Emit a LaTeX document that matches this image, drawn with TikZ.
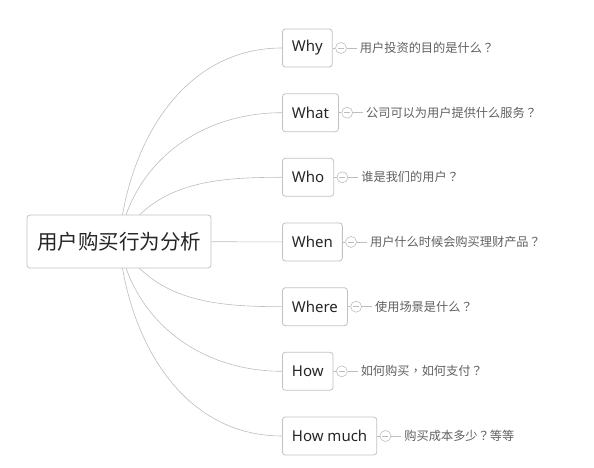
\documentclass[tikz,border=0pt]{standalone}
\usepackage{fontspec}
\setmainfont{Noto Sans}
\newfontfamily\cjk{Noto Sans CJK SC}
\newfontfamily\cjkpunct{Noto Sans CJK TC}
\newcommand\qm{{\cjkpunct ？}}
\newcommand\cm{{\cjkpunct ，}}
\usetikzlibrary{positioning}
\usetikzlibrary{backgrounds}

\definecolor{linegray}{HTML}{BDBDBD}
\definecolor{boxgray}{HTML}{C2C2C2}
\definecolor{textgray}{HTML}{606060}

\tikzset{
  topic/.style={draw=boxgray, fill=white, rounded corners=3pt, line width=0.8pt,
    minimum height=38pt, inner xsep=9.5pt, font=\fontsize{15}{18}\selectfont, text=black!85},
  central/.style={topic, minimum height=53pt, inner xsep=10pt,
    font=\cjk\fontsize{20.5}{24}\selectfont},
  fold/.style={circle, draw=linegray, line width=0.6pt, minimum size=11pt, inner sep=0pt,
    path picture={\draw[linegray, line width=0.6pt] ([xshift=2.5pt]path picture bounding box.west) -- ([xshift=-2.5pt]path picture bounding box.east);}},
  note/.style={font=\cjk\fontsize{12.2}{15}\selectfont, text=textgray, inner sep=3pt},
  branch/.style={draw=linegray, line width=0.6pt},
}

\begin{document}
\begin{tikzpicture}[x=1pt,y=1pt]
      \useasboundingbox (0,0) rectangle (594,468);
      % central topic
      \node[central] (root) at (119,226.5) {用户购买行为分析};
      % main branches
      \node[topic, anchor=west] (why) at (282,420) {Why};
      \node[topic, anchor=west] (what) at (282,355.3) {What};
      \node[topic, anchor=west] (who) at (282,290.7) {Who};
      \node[topic, anchor=west] (when) at (282,226) {When};
      \node[topic, anchor=west] (where) at (282,161.3) {Where};
      \node[topic, anchor=west] (how) at (282,96.7) {How};
      \node[topic, anchor=west] (howmuch) at (282,32) {How much};
      \begin{scope}[on background layer]
        \draw[branch] (root.center) to[out=85,in=180] (why.west);
        \draw[branch] (root.center) to[out=80,in=180] (what.west);
        \draw[branch] (root.center) to[out=60,in=180] (who.west);
        \draw[branch] (root) -- (when);
        \draw[branch] (root.center) to[out=-60,in=180] (where.west);
        \draw[branch] (root.center) to[out=-80,in=180] (how.west);
        \draw[branch] (root.center) to[out=-85,in=180] (howmuch.west);
      \end{scope}
      % sub topics
      \node[fold, right=2.5pt of why] (cwhy) {};
      \node[note, right=10pt of cwhy] (awhy) {用户投资的目的是什么\qm};
      \node[fold, right=2.5pt of what] (cwhat) {};
      \node[note, right=10pt of cwhat] (awhat) {公司可以为用户提供什么服务\qm};
      \node[fold, right=2.5pt of who] (cwho) {};
      \node[note, right=10pt of cwho] (awho) {谁是我们的用户\qm};
      \node[fold, right=2.5pt of when] (cwhen) {};
      \node[note, right=10pt of cwhen] (awhen) {用户什么时候会购买理财产品\qm};
      \node[fold, right=2.5pt of where] (cwhere) {};
      \node[note, right=10pt of cwhere] (awhere) {使用场景是什么\qm};
      \node[fold, right=2.5pt of how] (chow) {};
      \node[note, right=10pt of chow] (ahow) {如何购买\cm 如何支付\qm};
      \node[fold, right=2.5pt of howmuch] (chowmuch) {};
      \node[note, right=10pt of chowmuch] (ahowmuch) {购买成本多少\qm 等等};
      \draw[branch] (why) -- (cwhy) (cwhy) -- (awhy);
      \draw[branch] (what) -- (cwhat) (cwhat) -- (awhat);
      \draw[branch] (who) -- (cwho) (cwho) -- (awho);
      \draw[branch] (when) -- (cwhen) (cwhen) -- (awhen);
      \draw[branch] (where) -- (cwhere) (cwhere) -- (awhere);
      \draw[branch] (how) -- (chow) (chow) -- (ahow);
      \draw[branch] (howmuch) -- (chowmuch) (chowmuch) -- (ahowmuch);
\end{tikzpicture}
\end{document}
